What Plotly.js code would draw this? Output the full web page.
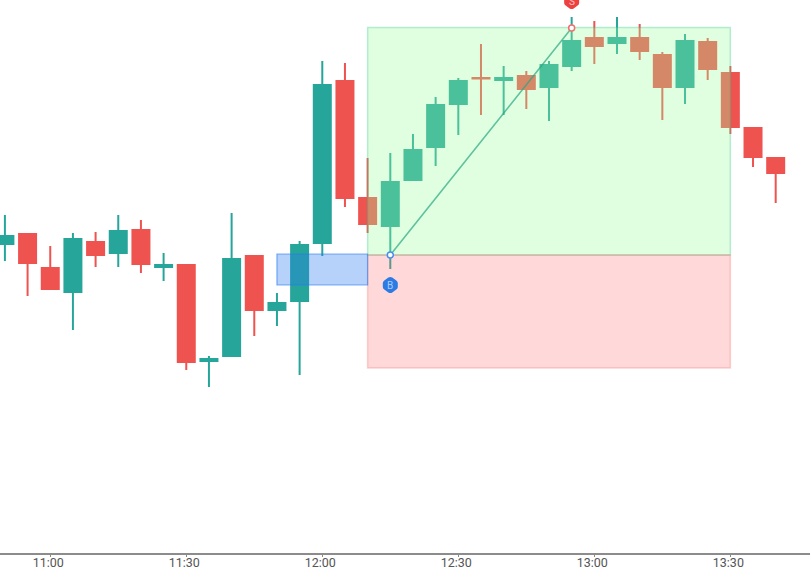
<!DOCTYPE html>
<html><head><meta charset="utf-8">
<script src="https://cdn.plot.ly/plotly-3.0.1.min.js"></script>
<style>html,body{margin:0;padding:0;background:#fff;overflow:hidden}#c{width:810px;height:568px}</style>
</head><body><div id="c"></div>
<script>
const open  = [356,366,332,308,358,347,370,333,335,239,244,344,290,299,357,519,402,374,420,453,496,522,520,524,513,534,562,557,562,545,513,558,527,472,442];
const close = [364,337,311,361,345,369,336,335,238,241,341,290,297,355,515,402,376,418,450,495,519,521.5,522,511,535,559,554,562,549,513,559,531,473,443,427];
const high  = [385,367,354,367,368,385,380,347,336,244,387,345,307,359,539,537,442,447,466,503,522,556,534,529,539,583,579,583,576,548,566,562,534,473,443];
const low   = [339,304,310,270,333,333,327,319,230,213,243,264,274,225,344,393,367,331,419,434,465,485,485,491,479,529,536,546,540,480,496,520,466,433,397];
const tickTimes = ['2024-01-02 11:00','2024-01-02 11:30','2024-01-02 12:00','2024-01-02 12:30','2024-01-02 13:00','2024-01-02 13:30'];
const tickLabels = ['11:00','11:30','12:00','12:30','13:00','13:30'];
const entryPrice = 345, targetPrice = 572.5, stopPrice = 232;
const orderTop = 346, orderBottom = 315;
const orderStart = '2024-01-02 11:50', boxStart = '2024-01-02 12:10', boxEnd = '2024-01-02 13:30';
const buyTime = '2024-01-02 12:15', sellTime = '2024-01-02 12:55';
const buyPrice = 345, sellPrice = 572, buyBadge = 315, sellBadge = 599;
const stepMinutes = 5;

const times = open.map((_, i) => {
  const t = new Date(Date.UTC(2024, 0, 2, 10, 50 + i * stepMinutes));
  return t.toISOString().slice(0, 16).replace('T', ' ');
});
const hex = 'M-2,-7.5 Q0,-8.5 2,-7.5 L6,-4.5 Q7.5,-3.5 7.5,-2 L7.5,2 Q7.5,3.5 6,4.5 L2,7.5 Q0,8.5 -2,7.5 L-6,4.5 Q-7.5,3.5 -7.5,2 L-7.5,-2 Q-7.5,-3.5 -6,-4.5 Z';
function dot(t, p, col) {
  return {type:'circle', layer:'above', xref:'x', yref:'y', xsizemode:'pixel', ysizemode:'pixel', xanchor:t, yanchor:p,
    x0:-3, x1:3, y0:-3, y1:3, fillcolor:'#fff', line:{color:col, width:1.5}};
}
function badge(t, p, col) {
  return {type:'path', layer:'above', xref:'x', yref:'y', xsizemode:'pixel', ysizemode:'pixel', xanchor:t, yanchor:p,
    path:hex, fillcolor:col, line:{width:0}};
}
const shapes = [
  {type:'rect', layer:'above', xref:'x', yref:'y', x0:boxStart, x1:boxEnd, y0:entryPrice, y1:targetPrice,
    fillcolor:'rgba(156,255,156,0.31)', line:{color:'rgba(38,190,130,0.3)', width:1.5}},
  {type:'rect', layer:'above', xref:'x', yref:'y', x0:boxStart, x1:boxEnd, y0:stopPrice, y1:entryPrice,
    fillcolor:'rgba(255,110,110,0.26)', line:{color:'rgba(239,83,80,0.25)', width:1.5}},
  {type:'rect', layer:'above', xref:'x', yref:'y', x0:orderStart, x1:boxStart, y0:orderBottom, y1:orderTop,
    fillcolor:'rgba(41,121,240,0.34)', line:{color:'rgba(41,121,240,0.6)', width:1.2}},
  {type:'line', layer:'above', xref:'x', yref:'y', x0:buyTime, x1:sellTime, y0:buyPrice, y1:sellPrice,
    line:{color:'rgba(38,166,130,0.7)', width:1.6}},
  dot(buyTime, buyPrice, '#4a8df0'),
  dot(sellTime, sellPrice, '#f07070'),
  badge(buyTime, buyBadge, '#2c7be5'),
  badge(sellTime, sellBadge, '#ef4040')
];
const annotations = [
  {x:buyTime, y:buyBadge, xref:'x', yref:'y', text:'B', showarrow:false, font:{family:'Roboto', size:10, color:'#a9c9f7'}},
  {x:sellTime, y:sellBadge, xref:'x', yref:'y', text:'S', showarrow:false, font:{family:'Roboto', size:10, color:'#f9c0c0'}}
];
const data = [{
  type:'candlestick', x:times, open, high, low, close, whiskerwidth:0,
  increasing:{line:{color:'#26a69a', width:2}, fillcolor:'#26a69a'},
  decreasing:{line:{color:'#ef5350', width:2}, fillcolor:'#ef5350'},
  hoverinfo:'skip'
}];
const layout = {
  width:810, height:568, margin:{l:0, r:0, t:0, b:15}, paper_bgcolor:'#fff', plot_bgcolor:'#fff',
  showlegend:false, boxgap:0.25, boxgroupgap:0,
  xaxis:{type:'date', range:['2024-01-02 10:48:55','2024-01-02 13:47:34'], rangeslider:{visible:false},
    tickmode:'array', tickvals:tickTimes, ticktext:tickLabels, ticks:'outside', ticklen:2, tickwidth:1, tickcolor:'#888',
    showgrid:false, zeroline:false, showline:true, linecolor:'#8c8c8c', linewidth:2, ticklabelstandoff:-5, ticklabelshift:-2,
    tickfont:{family:'Roboto', size:12.5, color:'#555'}, tickangle:0},
  yaxis:{range:[47,600], visible:false, showgrid:false, zeroline:false},
  shapes, annotations
};
Plotly.newPlot('c', data, layout, {displayModeBar:false, staticPlot:true});
</script></body></html>
